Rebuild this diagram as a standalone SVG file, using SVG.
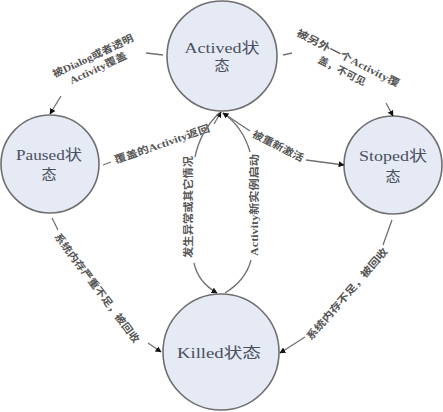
<svg xmlns="http://www.w3.org/2000/svg" width="443" height="412" viewBox="0 0 443 412">
<style>
.node{fill:#e5eaf5;stroke:#6f6f6f;stroke-width:1.6}
.nt{font-family:"Liberation Serif","Noto Sans CJK SC",serif;font-size:15px;fill:#4a4f5e;text-anchor:middle;dominant-baseline:central}
.ln{fill:none;stroke:#707070;stroke-width:1.3}
.lb{font-family:"Liberation Serif","Noto Sans CJK SC",serif;font-size:10px;fill:#555;text-anchor:middle;dominant-baseline:central;font-weight:bold}
</style>
<defs>
<marker id="ah" viewBox="0 0 10 10" refX="9" refY="5" markerWidth="6" markerHeight="6" orient="auto" markerUnits="userSpaceOnUse">
<path d="M0,0 L10,5 L0,10 z" fill="#111"/>
</marker>
</defs>
<g id="actived"><circle class="node" cx="222" cy="56" r="55"/><text class="nt" x="222" y="48" textLength="75" lengthAdjust="spacingAndGlyphs">Actived状</text><text class="nt" x="222" y="66">态</text></g>
<g id="paused"><circle class="node" cx="50" cy="164" r="49"/><text class="nt" x="49" y="155" textLength="66" lengthAdjust="spacingAndGlyphs">Paused状</text><text class="nt" x="49" y="175">态</text></g>
<g id="stoped"><circle class="node" cx="393" cy="165" r="49"/><text class="nt" x="393" y="156" textLength="68" lengthAdjust="spacingAndGlyphs">Stoped状</text><text class="nt" x="393" y="177">态</text></g>
<g id="killed"><circle class="node" cx="221" cy="352" r="58"/><text class="nt" x="219" y="353" textLength="84" lengthAdjust="spacingAndGlyphs">Killed状态</text></g>
<g id="connectors">
<path class="ln" d="M163,55 L146,53"/>
<path class="ln" d="M61,96 L50,114" marker-end="url(#ah)"/>
<text class="lb" transform="translate(93,56) rotate(-25)" textLength="88" lengthAdjust="spacingAndGlyphs">被Dialog或者透明</text>
<text class="lb" transform="translate(98,68) rotate(-25)" textLength="62" lengthAdjust="spacingAndGlyphs">Activity覆盖</text>

<path class="ln" d="M283,55 L292,53"/>
<path class="ln" d="M386,103 L393,116" marker-end="url(#ah)"/>
<text class="lb" transform="translate(348,58) rotate(27)" textLength="114" lengthAdjust="spacingAndGlyphs">被另外一个Activity覆</text>
<text class="lb" transform="translate(342,71) rotate(27)" textLength="52" lengthAdjust="spacingAndGlyphs">盖，不可见</text>

<path class="ln" d="M103,165 L111,162"/>
<path class="ln" d="M214,124 L221,112" marker-end="url(#ah)"/>
<text class="lb" transform="translate(162,144) rotate(-19)" textLength="100" lengthAdjust="spacingAndGlyphs">覆盖的Activity返回</text>

<path class="ln" d="M223,113 L250,131"/>
<path class="ln" d="M306,160 L344,165" marker-end="url(#ah)"/>
<text class="lb" transform="translate(278,146) rotate(27)" textLength="56" lengthAdjust="spacingAndGlyphs">被重新激活</text>

<path class="ln" d="M219,113 Q200,132 195,157"/>
<path class="ln" d="M194,263 Q198,282 217,293" marker-end="url(#ah)"/>
<text class="lb" transform="translate(188,207) rotate(-90)" textLength="102" lengthAdjust="spacingAndGlyphs">发生异常或其它情况</text>

<path class="ln" d="M250,152 Q243,127 223,113" marker-end="url(#ah)"/>
<path class="ln" d="M225,293 Q246,280 251,260"/>
<text class="lb" transform="translate(254,205) rotate(-90)" textLength="102" lengthAdjust="spacingAndGlyphs">Activity新实例启动</text>

<path class="ln" d="M52,218 L58,230"/>
<path class="ln" d="M148,343 L161,352" marker-end="url(#ah)"/>
<text class="lb" transform="translate(97,288) rotate(53)" textLength="134" lengthAdjust="spacingAndGlyphs">系统内存严重不足，被回收</text>

<path class="ln" d="M392,220 L383,245"/>
<path class="ln" d="M305,337 L280,353" marker-end="url(#ah)"/>
<text class="lb" transform="translate(347,294) rotate(-49)" textLength="118" lengthAdjust="spacingAndGlyphs">系统内存不足，被回收</text>
</g>
</svg>
